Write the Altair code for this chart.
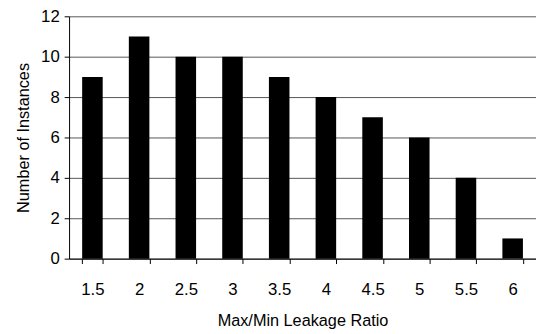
import altair as alt
import pandas as pd

ratios = ["1.5", "2", "2.5", "3", "3.5", "4", "4.5", "5", "5.5", "6"]
counts = [9, 11, 10, 10, 9, 8, 7, 6, 4, 1]

df = pd.DataFrame({"ratio": ratios, "count": counts})

font = "Liberation Sans"

chart = alt.Chart(df).mark_bar(color="black").encode(
    x=alt.X("ratio:N", sort=ratios,
            scale=alt.Scale(paddingInner=0.56, paddingOuter=0.28),
            axis=alt.Axis(title="Max/Min Leakage Ratio", labelAngle=0,
                          labelFontSize=17, titleFontSize=16.5, titleFontWeight="normal",
                          labelFont=font, titleFont=font, labelColor="black", titleColor="black",
                          domainColor="black", tickColor="black", tickSize=5,
                          tickBand="extent", labelPadding=18, titlePadding=16,
                          grid=False)),
    y=alt.Y("count:Q",
            scale=alt.Scale(domain=[0, 12], nice=False),
            axis=alt.Axis(title="Number of Instances", values=[0, 2, 4, 6, 8, 10, 12],
                          labelFontSize=17, titleFontSize=16.5, titleFontWeight="normal",
                          labelFont=font, titleFont=font, labelColor="black", titleColor="black",
                          domainColor="black", tickColor="black", tickSize=5,
                          labelPadding=5, titlePadding=9,
                          gridColor="#555555", gridWidth=1)),
).properties(
    width=474, height=246,
    autosize=alt.AutoSizeParams(type="none"),
    padding={"left": 62, "top": 6, "right": 0, "bottom": 69},
).configure_view(stroke=None)

chart.save("out.html", embed_options={"renderer": "svg", "actions": False})
